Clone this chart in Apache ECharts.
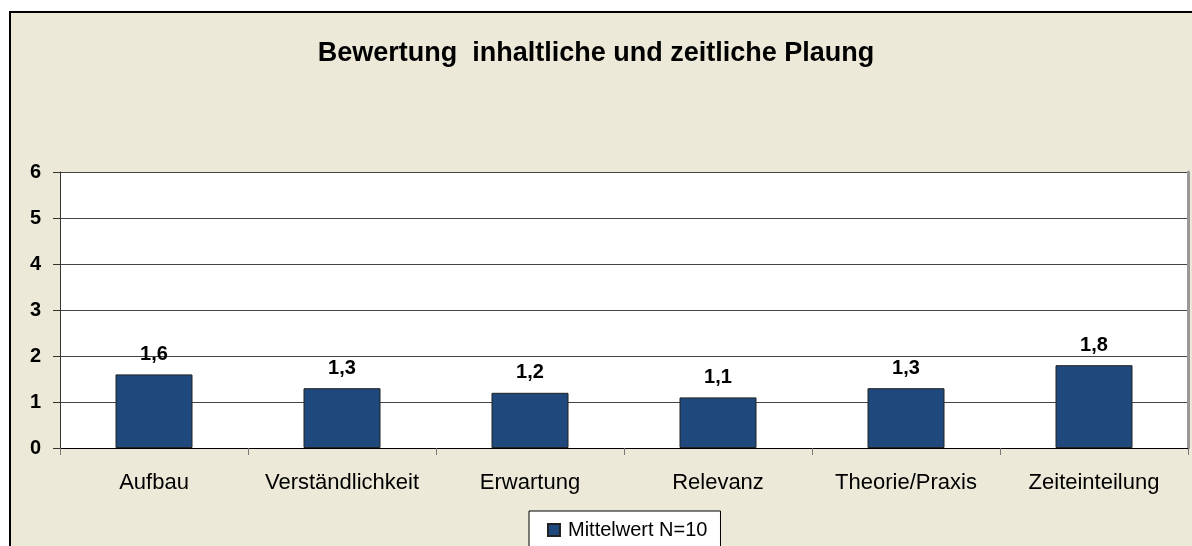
<!DOCTYPE html>
<html>
<head>
<meta charset="utf-8">
<script src="https://cdn.jsdelivr.net/npm/echarts@6/dist/echarts.min.js"></script>
<style>
html,body{margin:0;padding:0;background:#fff;}
#frame{position:absolute;left:9px;top:11px;width:1200px;height:600px;background:#ECE9D8;border-left:2px solid #000;border-top:2px solid #000;box-sizing:border-box;}
#chart{position:absolute;left:0;top:0;width:1192px;height:546px;}
</style>
</head>
<body>
<div id="frame"></div>
<div id="chart"></div>
<script>
const titleText = 'Bewertung  inhaltliche und zeitliche Plaung';
const categories = ['Aufbau', 'Verständlichkeit', 'Erwartung', 'Relevanz', 'Theorie/Praxis', 'Zeiteinteilung'];
const seriesName = 'Mittelwert N=10';
const values = [1.6, 1.3, 1.2, 1.1, 1.3, 1.8];
const yTicks = { min: 0, max: 6, interval: 1 };

const FONT = '"Liberation Sans", Arial, sans-serif';
const chart = echarts.init(document.getElementById('chart'), null, { renderer: 'canvas' });
chart.setOption({
  backgroundColor: 'transparent',
  animation: false,
  title: {
    text: titleText,
    left: 'center',
    top: 35,
    textStyle: { fontFamily: FONT, fontSize: 27, fontWeight: 'bold', color: '#000' }
  },
  legend: {
    data: [seriesName],
    left: 529,
    top: 511,
    backgroundColor: '#fff',
    borderColor: '#000',
    borderWidth: 1,
    padding: [9, 13, 12, 18],
    itemWidth: 12,
    itemHeight: 12,
    icon: 'rect',
    textStyle: { fontFamily: FONT, fontSize: 20, color: '#000', padding: [0, 0, 0, 3] }
  },
  grid: {
    left: 60, right: 4, top: 172, bottom: 98,
    show: true, backgroundColor: '#fff', borderWidth: 0
  },
  xAxis: {
    type: 'category',
    data: categories,
    axisLine: { show: true, lineStyle: { color: '#000', width: 1 } },
    axisTick: { show: true, interval: 0, alignWithLabel: false, length: 7, lineStyle: { color: '#777' } },
    axisLabel: { interval: 0, fontFamily: FONT, fontSize: 22, color: '#000', margin: 24 },
    splitLine: { show: false }
  },
  yAxis: [{
    type: 'value',
    min: yTicks.min, max: yTicks.max, interval: yTicks.interval,
    axisLine: { show: true, lineStyle: { color: '#333', width: 1 } },
    axisTick: { show: true, length: 7, lineStyle: { color: '#333' } },
    axisLabel: { fontFamily: FONT, fontSize: 20, fontWeight: 'bold', color: '#000', margin: 19 },
    splitLine: { show: true, lineStyle: { color: '#444', width: 1 } }
  }, {
    type: 'value',
    position: 'right',
    min: yTicks.min, max: yTicks.max, interval: yTicks.interval,
    axisLine: { show: true, lineStyle: { color: '#999', width: 3 } },
    axisTick: { show: false },
    axisLabel: { show: false },
    splitLine: { show: false }
  }],
  series: [{
    name: seriesName,
    type: 'bar',
    data: values,
    barWidth: 77,
    itemStyle: { color: '#1F497D', borderColor: '#222', borderWidth: 1 },
    label: {
      show: true,
      position: 'top',
      distance: 10,
      fontFamily: FONT,
      fontSize: 20,
      fontWeight: 'bold',
      color: '#000',
      formatter: p => String(p.value).replace('.', ',')
    }
  }]
});
</script>
</body>
</html>
